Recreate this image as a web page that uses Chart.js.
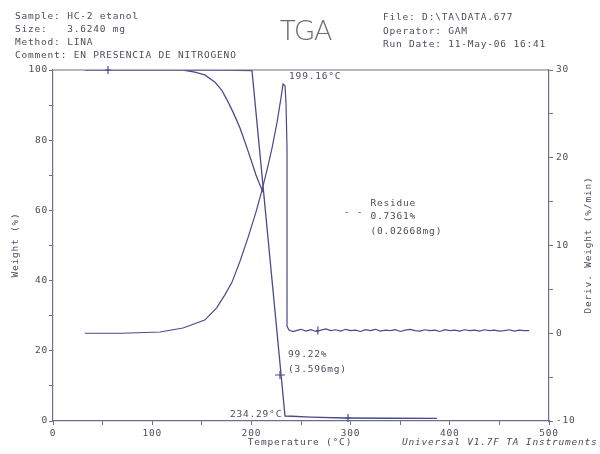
<!DOCTYPE html>
<html>
<head>
<meta charset="utf-8">
<style>
  html, body { margin: 0; padding: 0; background: #fff; }
</style>
<script src="https://cdn.jsdelivr.net/npm/chart.js@4.4.1/dist/chart.umd.min.js"></script>
</head>
<body>
<canvas id="tga" width="600" height="454"></canvas>
<script>
// weight (%) against temperature (°C)
const weightTemp = [32, 60, 100, 131, 170, 200.6, 233.9, 241, 260, 294, 340, 387];
const weightPct  = [100, 100, 100, 100, 100, 99.8, 1.4, 1.35, 1.1, 0.85, 0.78, 0.74];
// the rounded shoulder that runs into the drop
const shoulderTemp = [131, 143, 153, 163, 170, 175.4, 181.5, 188.5, 194.6, 199.6, 204.6, 208.7, 211.7];
const shoulderPct  = [100, 99.4, 98.6, 96.6, 94.3, 91.5, 88.0, 83.5, 78.6, 74.4, 70.1, 67.2, 65.2];

// deriv. weight (%/min)
const derivTemp = [32, 70, 108, 131, 153, 165, 173.4, 180.4, 188.5, 196.6, 204.6, 210.7, 215.7, 220.8,
  225.8, 229.8, 231.9, 233.9, 234.9, 235.9, 235.9, 237.9, 241.9,
  245, 250, 255, 260, 265, 270, 275, 280, 285, 290, 295, 300, 305, 310, 315, 320, 325, 330,
  335, 340, 345, 350, 355, 360, 365, 370, 375, 380, 385, 390, 395, 400, 405, 410, 415, 420,
  425, 430, 435, 440, 445, 450, 455, 460, 465, 470, 475, 480];
const derivRate = [0, 0, 0.14, 0.6, 1.5, 2.9, 4.4, 5.8, 8.2, 10.9, 13.8, 16.3, 18.6, 21.1,
  24.0, 26.8, 28.4, 28.2, 26.2, 21.1, 0.8, 0.37, 0.2,
  0.30, 0.45, 0.25, 0.40, 0.20, 0.35, 0.50, 0.30, 0.40, 0.25, 0.45, 0.30, 0.35, 0.20, 0.40, 0.30, 0.45, 0.25,
  0.35, 0.30, 0.40, 0.20, 0.35, 0.45, 0.30, 0.25, 0.40, 0.30, 0.35, 0.20, 0.40, 0.30, 0.35, 0.25, 0.40, 0.30,
  0.35, 0.25, 0.40, 0.30, 0.35, 0.25, 0.30, 0.40, 0.25, 0.35, 0.30, 0.30];

const weightTicks = [0, 20, 40, 60, 80, 100];
const derivTicks = [-10, 0, 10, 20, 30];
const tempTicks = [0, 100, 200, 300, 400, 500];

const lineColor = "#4a4a8c";
const axisColor = "#6e6e8c";
const textColor = "#4d4d5c";
const mono = '"DejaVu Sans Mono", "Liberation Mono", monospace';

const weightData = weightTemp.map((t, i) => ({ x: t, y: weightPct[i] }))
  .concat([{ x: shoulderTemp[0], y: null }])
  .concat(shoulderTemp.map((t, i) => ({ x: t, y: shoulderPct[i] })));
const derivData = derivTemp.map((t, i) => ({ x: t, y: derivRate[i] }));

const tickFont = { family: mono, size: 9.5 };

const notes = {
  id: "notes",
  beforeDraw(chart) {
    chart.ctx.letterSpacing = "0.8px";
  },
  afterDraw(chart) {
    const { ctx, chartArea: a, scales } = chart;
    const X = scales.x, W = scales.y, D = scales.y2;
    ctx.save();
    ctx.strokeStyle = axisColor;
    ctx.lineWidth = 1.2;
    ctx.beginPath();
    ctx.moveTo(a.left, a.top);
    ctx.lineTo(a.right, a.top);
    ctx.stroke();

    ctx.fillStyle = textColor;
    ctx.font = "9.5px " + mono;
    ctx.textBaseline = "middle";
    ctx.textAlign = "left";
    ["Sample: HC-2 etanol", "Size:   3.6240 mg", "Method: LINA", "Comment: EN PRESENCIA DE NITROGENO"]
      .forEach((s, i) => ctx.fillText(s, 15, 17 + i * 13));
    ["File: D:\\TA\\DATA.677", "Operator: GAM", "Run Date: 11-May-06 16:41"]
      .forEach((s, i) => ctx.fillText(s, 383, 18 + i * 13.5));

    ctx.textAlign = "center";
    ctx.fillText("Temperature (\u00B0C)", 300, 443);
    ctx.textAlign = "left";
    ctx.font = "italic 9.5px " + mono;
    ctx.fillText("Universal V1.7F TA Instruments", 402, 443);
    ctx.font = "9.5px " + mono;

    ctx.save();
    ctx.translate(16, 245);
    ctx.rotate(-Math.PI / 2);
    ctx.textAlign = "center";
    ctx.fillText("Weight (%)", 0, 0);
    ctx.restore();
    ctx.save();
    ctx.translate(589, 245);
    ctx.rotate(-Math.PI / 2);
    ctx.textAlign = "center";
    ctx.fillText("Deriv. Weight (%/min)", 0, 0);
    ctx.restore();

    ctx.letterSpacing = "0px";
    ctx.font = '300 27px Lato, "DejaVu Sans", sans-serif';
    ctx.fillStyle = "#6a6a78";
    ctx.textAlign = "center";
    ctx.fillText("TGA", 306, 31);
    ctx.letterSpacing = "0.8px";

    // annotations next to the curves
    ctx.fillStyle = textColor;
    ctx.font = "9.5px " + mono;
    ctx.textAlign = "left";
    ctx.fillText("199.16\u00B0C", X.getPixelForValue(238), D.getPixelForValue(29.2));
    ctx.fillText("Residue", X.getPixelForValue(320), D.getPixelForValue(14.8));
    ctx.fillText("0.7361%", X.getPixelForValue(320), D.getPixelForValue(13.3));
    ctx.fillText("(0.02668mg)", X.getPixelForValue(320), D.getPixelForValue(11.6));
    ctx.fillText("- -", X.getPixelForValue(293), D.getPixelForValue(13.8));
    ctx.fillText("99.22%", X.getPixelForValue(237), W.getPixelForValue(18.8));
    ctx.fillText("(3.596mg)", X.getPixelForValue(237), W.getPixelForValue(14.8));
    ctx.textAlign = "right";
    ctx.fillText("234.29\u00B0C", X.getPixelForValue(231), W.getPixelForValue(1.8));

    // small cursor marks
    ctx.strokeStyle = lineColor;
    ctx.lineWidth = 1.2;
    const cross = (px, py, w, h) => {
      ctx.beginPath();
      ctx.moveTo(px - w, py); ctx.lineTo(px + w, py);
      ctx.moveTo(px, py - h); ctx.lineTo(px, py + h);
      ctx.stroke();
    };
    cross(X.getPixelForValue(228.8), W.getPixelForValue(13.1), 5, 4);
    cross(X.getPixelForValue(55.4), W.getPixelForValue(100), 3, 4);
    cross(X.getPixelForValue(297.4), W.getPixelForValue(0.85), 3, 4);
    cross(X.getPixelForValue(267), D.getPixelForValue(0.3), 2, 4);
    ctx.restore();
  }
};

new Chart(document.getElementById("tga"), {
  type: "scatter",
  data: {
    datasets: [
      {
        label: "Weight",
        data: weightData,
        yAxisID: "y",
        showLine: true,
        spanGaps: false,
        borderColor: lineColor,
        borderWidth: 1.3,
        pointRadius: 0,
        tension: 0,
      },
      {
        label: "Deriv. Weight",
        data: derivData,
        yAxisID: "y2",
        showLine: true,
        borderColor: lineColor,
        borderWidth: 1.2,
        pointRadius: 0,
        tension: 0,
      },
    ],
  },
  options: {
    responsive: false,
    animation: false,
    devicePixelRatio: 1,
    layout: { padding: { top: 70, left: 0, right: 0, bottom: 0 } },
    plugins: { legend: { display: false }, tooltip: { enabled: false } },
    scales: {
      x: {
        type: "linear",
        min: 0,
        max: 500,
        position: "bottom",
        ticks: {
          stepSize: 50,
          autoSkip: false,
          maxRotation: 0,
          padding: 3,
          color: textColor,
          font: tickFont,
          callback: (v) => (tempTicks.includes(v) ? v : ""),
        },
        grid: { drawOnChartArea: false, tickLength: 4, color: axisColor },
        border: { color: axisColor, width: 1.2 },
        afterFit: (s) => { s.height = 33; },
      },
      y: {
        min: 0,
        max: 100,
        position: "left",
        ticks: {
          stepSize: 10,
          autoSkip: false,
          padding: 1,
          color: textColor,
          font: tickFont,
          callback: (v) => (weightTicks.includes(v) ? v : ""),
        },
        grid: { drawOnChartArea: false, tickLength: 4, color: axisColor },
        border: { color: axisColor, width: 1.2 },
        afterFit: (s) => { s.width = 53; },
      },
      y2: {
        min: -10,
        max: 30,
        position: "right",
        ticks: {
          stepSize: 5,
          autoSkip: false,
          padding: 3,
          color: textColor,
          font: tickFont,
          callback: (v) => (derivTicks.includes(v) ? v : ""),
        },
        grid: { drawOnChartArea: false, tickLength: 4, color: axisColor },
        border: { color: axisColor, width: 1.2 },
        afterFit: (s) => { s.width = 51; },
      },
    },
  },
  plugins: [notes],
});
</script>
</body>
</html>
